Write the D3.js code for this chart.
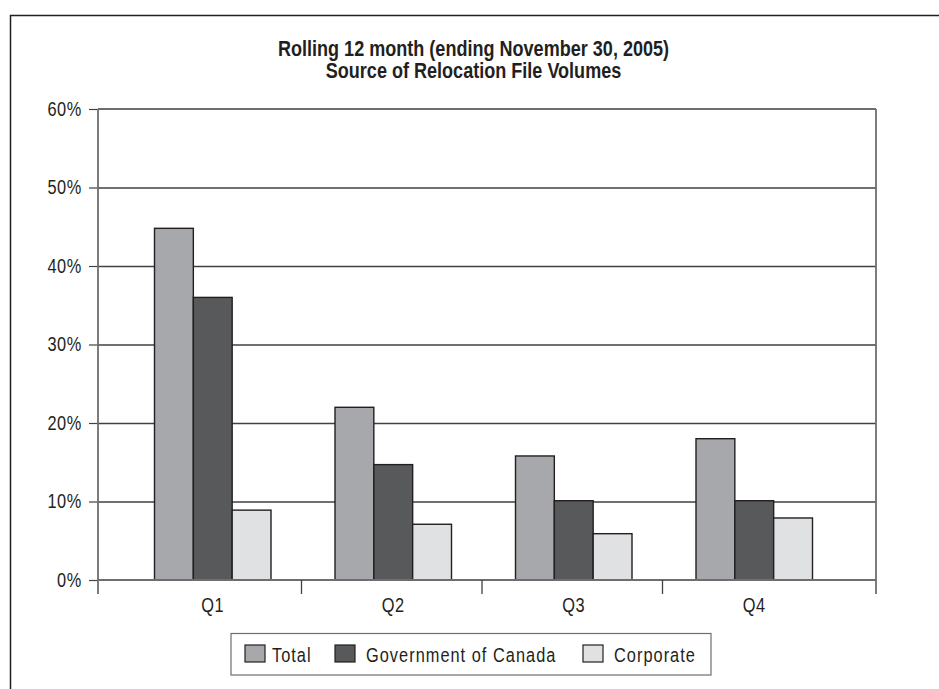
<!DOCTYPE html>
<html>
<head>
<meta charset="utf-8">
<script src="https://cdn.jsdelivr.net/npm/d3@7"></script>
<style>
  html, body { margin: 0; padding: 0; background: #fff; }
  svg { display: block; }
  text { font-family: "Liberation Sans", Arial, sans-serif; fill: #231f20; }
</style>
</head>
<body>
<svg id="chart" width="939" height="689"></svg>
<script>
const titleLines = ["Rolling 12 month (ending November 30, 2005)", "Source of Relocation File Volumes"];
const categories = ["Q1", "Q2", "Q3", "Q4"];
const seriesNames = ["Total", "Government of Canada", "Corporate"];
const totalValues = [0.448, 0.220, 0.158, 0.180];
const governmentValues = [0.360, 0.147, 0.101, 0.101];
const corporateValues = [0.089, 0.071, 0.059, 0.079];
const yTicks = [0, 0.1, 0.2, 0.3, 0.4, 0.5, 0.6];
const colors = ["#a7a8ab", "#58595b", "#e0e1e3"];

const seriesValues = [totalValues, governmentValues, corporateValues];
const svg = d3.select("#chart");
const SX = 0.84; // horizontal condensing of text (condensed typeface look)

const plot = { left: 98, right: 876, top: 109, bottom: 580 };

// frame
svg.append("path")
  .attr("d", "M10.5,689 L10.5,15.5 L939,15.5")
  .attr("fill", "none").attr("stroke", "#231f20").attr("stroke-width", 1.5);

// title
svg.append("g").selectAll("text").data(titleLines).join("text")
  .attr("transform", (d, i) => `translate(473.5,${55.5 + i * 22}) scale(${SX},1)`)
  .attr("text-anchor", "middle")
  .style("font-weight", "bold").style("font-size", "21.5px")
  .text(d => d);

const y = d3.scaleLinear().domain([0, 0.6]).range([plot.bottom, plot.top]);
const x = d3.scaleBand().domain(categories).range([122.5, 844.5]).padding(0);
const x1 = d3.scaleBand().domain(seriesNames).range([32, x.bandwidth() - 32]).padding(0);

// gridlines
const grid = svg.append("g").attr("transform", `translate(${plot.left},0)`)
  .call(d3.axisLeft(y).tickValues(yTicks.filter(v => v > 0 && v < 0.6)).tickSize(-(plot.right - plot.left)).tickFormat(""));
grid.select(".domain").remove();
grid.selectAll("line").attr("stroke", "#414042").attr("stroke-width", 1.3);

// top border line (60%)
svg.append("line")
  .attr("x1", plot.left).attr("x2", plot.right)
  .attr("y1", y(0.6)).attr("y2", y(0.6))
  .attr("stroke", "#6d6e71").attr("stroke-width", 1.8);

// bars
const groups = svg.append("g").selectAll("g").data(categories).join("g")
  .attr("transform", c => `translate(${x(c)},0)`);
groups.selectAll("rect")
  .data((c, ci) => seriesNames.map((s, si) => ({ s, si, v: seriesValues[si][ci] })))
  .join("rect")
  .attr("x", d => x1(d.s))
  .attr("width", x1.bandwidth())
  .attr("y", d => y(d.v))
  .attr("height", d => y(0) - y(d.v))
  .attr("fill", d => colors[d.si])
  .attr("stroke", "#231f20").attr("stroke-width", 1.4);

// zero line
svg.append("line")
  .attr("x1", plot.left).attr("x2", plot.right)
  .attr("y1", y(0)).attr("y2", y(0))
  .attr("stroke", "#6d6e71").attr("stroke-width", 1.8);

// right border
svg.append("line")
  .attr("x1", plot.right).attr("x2", plot.right)
  .attr("y1", plot.top).attr("y2", plot.bottom + 14)
  .attr("stroke", "#6d6e71").attr("stroke-width", 1.8);

// y axis
const yAxis = svg.append("g").attr("transform", `translate(${plot.left},0)`)
  .call(d3.axisLeft(y).tickValues(yTicks).tickSize(9).tickPadding(7).tickFormat(d3.format(".0%")));
yAxis.select(".domain").remove();
yAxis.selectAll(".tick line").attr("stroke", "#414042").attr("stroke-width", 1.2);
yAxis.selectAll("text")
  .attr("x", -16.3 / SX)
  .attr("transform", `scale(${SX},1)`)
  .style("font-size", "19.5px").style("letter-spacing", "0.6px").attr("fill", "#231f20");
svg.append("line")
  .attr("x1", plot.left).attr("x2", plot.left)
  .attr("y1", plot.top).attr("y2", plot.bottom + 14)
  .attr("stroke", "#6d6e71").attr("stroke-width", 1.8);

// x axis labels
const xAxis = svg.append("g").attr("transform", `translate(0,${plot.bottom})`)
  .call(d3.axisBottom(x).tickSize(0).tickPadding(18));
xAxis.select(".domain").remove();
xAxis.selectAll("text")
  .attr("transform", `scale(${SX},1)`)
  .style("font-size", "19.5px").style("letter-spacing", "0.6px").attr("fill", "#231f20");
// category separators
svg.append("g").selectAll("line").data(categories.slice(1)).join("line")
  .attr("x1", c => x(c) - 1.5).attr("x2", c => x(c) - 1.5)
  .attr("y1", plot.bottom).attr("y2", plot.bottom + 14)
  .attr("stroke", "#414042").attr("stroke-width", 1.3);

// legend
const legend = svg.append("g");
legend.append("rect")
  .attr("x", 231).attr("y", 633.5).attr("width", 480).attr("height", 41.5)
  .attr("fill", "#fff").attr("stroke", "#6d6e71").attr("stroke-width", 1.2);
const legendX = [245, 335, 583];
const items = legend.selectAll("g.item").data(seriesNames).join("g")
  .attr("class", "item")
  .attr("transform", (d, i) => `translate(${legendX[i]},645)`);
items.append("rect")
  .attr("width", 20).attr("height", 17)
  .attr("fill", (d, i) => colors[i])
  .attr("stroke", "#231f20").attr("stroke-width", 1.2);
items.append("text")
  .attr("transform", (d, i) => `translate(${i === 0 ? 27 : 31},16.5) scale(${SX},1)`)
  .style("font-size", "19.5px").style("letter-spacing", "1.2px")
  .text(d => d);
</script>
</body>
</html>
